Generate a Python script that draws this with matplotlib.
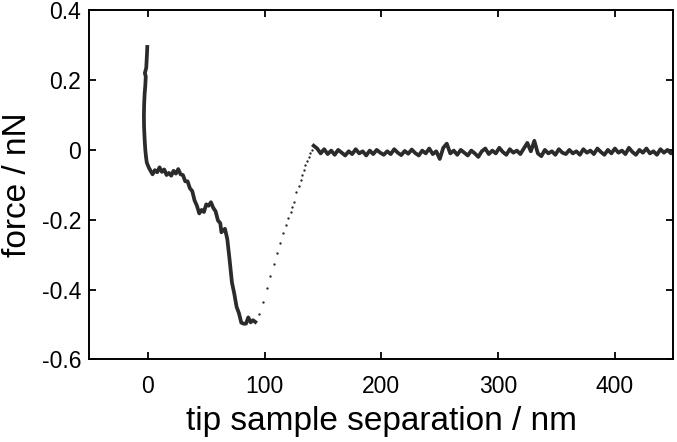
import matplotlib
matplotlib.use("Agg")
import matplotlib.pyplot as plt

# approach / contact part near zero separation (nm, nN)
contact_x = [-0.5, -0.7, -1.0, -1.4, -2.6, -1.8, -2.2, -2.8, -3.2, -3.4, -3.3, -3.0,
             -2.6, -2.2, -1.6, -1.0, -0.3,
             1, 2, 4, 6, 8, 10, 12, 14, 16, 18, 20, 22, 24, 26, 28, 30, 32, 34,
             36, 38, 40, 42, 44, 46, 48, 50, 52, 54, 56, 58, 60, 62, 63, 64, 66,
             68, 70, 72, 74, 76, 78, 80, 82, 84, 86, 88, 90, 92]
contact_y = [0.295, 0.280, 0.260, 0.235, 0.220, 0.210, 0.185, 0.160, 0.130, 0.100,
             0.070, 0.045, 0.020, 0.000, -0.020, -0.035, -0.042,
             -0.052, -0.058, -0.070, -0.058, -0.064, -0.050, -0.063, -0.056, -0.072,
             -0.066, -0.074, -0.060, -0.068, -0.055, -0.070, -0.072, -0.090, -0.090,
             -0.110, -0.118, -0.145, -0.160, -0.182, -0.172, -0.178, -0.156, -0.160,
             -0.150, -0.166, -0.176, -0.202, -0.210, -0.236, -0.232, -0.226,
             -0.255, -0.315, -0.380, -0.412, -0.450, -0.468, -0.495, -0.498, -0.498,
             -0.480, -0.494, -0.488, -0.493]

# snap-off (sparse samples)
jump_x = [95.1, 98.5, 101.9, 104.9, 107.9, 110.8, 113.4, 116.0, 118.2, 120.3, 122.2,
          123.7, 125.2, 127.1, 129.1, 130.8, 132.2, 133.6, 135.0, 136.2, 137.6,
          139.1, 140.4]
jump_y = [-0.470, -0.436, -0.395, -0.360, -0.327, -0.296, -0.267, -0.239, -0.214,
          -0.194, -0.177, -0.163, -0.148, -0.122, -0.103, -0.087, -0.071, -0.058,
          -0.043, -0.031, -0.020, -0.010, 0.000]

# free (non-contact) baseline
free_x = [142, 145, 148, 151, 154, 157, 160, 163, 166, 169, 172, 175, 178, 181, 184,
          187, 190, 193, 196, 199, 202, 205, 208, 211, 214, 217, 220, 223, 226, 229,
          232, 235, 238, 241, 244, 247, 250, 253, 256, 259, 262, 265, 268, 271, 274,
          277, 280, 283, 286, 289, 292, 295, 298, 301, 304, 307, 310, 313, 316, 319,
          322, 325, 328, 331, 334, 337, 340, 343, 346, 349, 352, 355, 358, 361, 364,
          367, 370, 373, 376, 379, 382, 385, 388, 391, 394, 397, 400, 403, 406, 409,
          412, 415, 418, 421, 424, 427, 430, 433, 436, 439, 442, 445, 448, 451]
free_y = [0.012, 0.004, -0.010, 0.002, -0.012, -0.002, -0.014, 0.000, -0.008, -0.016,
          -0.004, -0.012, 0.002, -0.010, -0.004, -0.016, -0.002, -0.012, 0.000, -0.008,
          -0.014, -0.004, -0.012, 0.002, -0.008, -0.015, -0.003, -0.011, 0.001, -0.009,
          -0.016, -0.002, -0.010, 0.004, -0.012, -0.004, -0.026, 0.006, 0.018, -0.010,
          -0.002, -0.014, 0.000, -0.008, -0.016, -0.002, -0.010, -0.020, -0.004, 0.004,
          -0.012, -0.002, -0.010, 0.006, -0.006, -0.014, 0.002, -0.008, -0.002, -0.012,
          0.004, 0.020, -0.004, 0.026, -0.010, -0.018, 0.000, -0.010, -0.004, -0.014,
          0.002, -0.008, -0.012, 0.000, -0.010, -0.004, -0.014, 0.002, -0.008, -0.002,
          -0.012, 0.004, -0.006, -0.014, 0.000, -0.010, 0.004, -0.008, -0.002, -0.012,
          0.006, -0.006, -0.014, 0.000, -0.008, 0.004, -0.010, -0.004, -0.014, 0.002,
          -0.008, 0.000, -0.010, -0.004]

plt.rcParams['font.family'] = ['Liberation Sans', 'DejaVu Sans']

fig = plt.figure(figsize=(6.77, 4.42), dpi=100)
ax = fig.add_axes([0.1322, 0.1871, 0.8623, 0.7896])

col = '#2b2b2b'
ax.plot(contact_x, contact_y, color=col, lw=2.7)
ax.plot(jump_x, jump_y, 'o', color=col, ms=1.7, mew=0)
ax.plot(free_x, free_y, color=col, lw=2.7)

ax.set_xlim(-50, 450)
ax.set_ylim(-0.6, 0.4)
ax.set_xticks([0, 100, 200, 300, 400])
ax.set_yticks([-0.6, -0.4, -0.2, 0, 0.2, 0.4])
ax.set_yticklabels(['-0.6', '-0.4', '-0.2', '0', '0.2', '0.4'])
ax.tick_params(direction='in', top=True, right=True, length=5, width=1.3,
               labelsize=16.5, labeltop=False, labelright=False)
ax.tick_params(axis='x', pad=11)
ax.tick_params(axis='y', pad=6)
for s in ax.spines.values():
    s.set_linewidth(1.4)

ax.set_xlabel('tip sample separation / nm', fontsize=24, labelpad=6)
ax.set_ylabel('force / nN', fontsize=24, labelpad=6)

fig.savefig('out.png', dpi=100)
